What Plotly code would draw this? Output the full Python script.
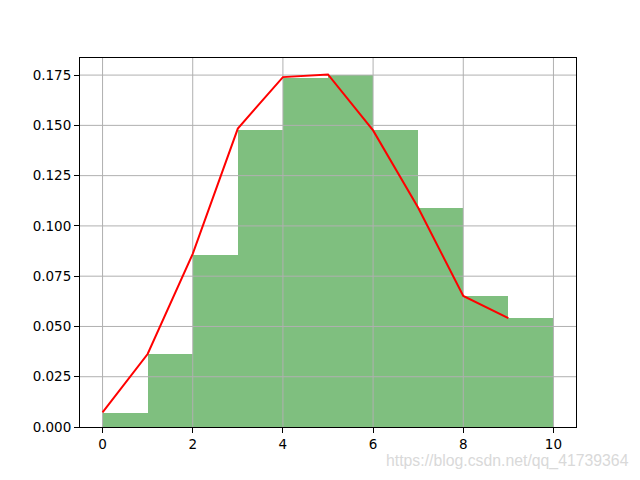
import plotly.graph_objects as go

bin_left = [0, 1, 2, 3, 4, 5, 6, 7, 8, 9]
bar_heights = [0.0070, 0.0365, 0.0856, 0.1478, 0.1737, 0.1750, 0.1475, 0.1090, 0.0652, 0.0544]
line_x = [0, 1, 2, 3, 4, 5, 6, 7, 8, 9]
line_y = [0.0073, 0.0363, 0.0861, 0.1484, 0.1740, 0.1753, 0.1475, 0.1090, 0.0652, 0.0541]
x_ticks = [0, 2, 4, 6, 8, 10]
y_ticks = [0.000, 0.025, 0.050, 0.075, 0.100, 0.125, 0.150, 0.175]

x_range = [-0.5, 10.5]
y_range = [0, 0.1835]

fig = go.Figure()
fig.add_trace(go.Bar(x=bin_left, y=bar_heights, width=1, offset=0,
                     marker=dict(color="rgba(0,128,0,0.5)", line=dict(width=0)),
                     hoverinfo="skip"))

# grid lines drawn above bars, below the line (as matplotlib does)
gx, gy = [], []
for t in x_ticks:
    gx += [t, t, None]
    gy += [y_range[0], y_range[1], None]
for t in y_ticks[1:]:
    gx += [x_range[0], x_range[1], None]
    gy += [t, t, None]
fig.add_trace(go.Scatter(x=gx, y=gy, mode="lines", line=dict(color="#b0b0b0", width=1),
                         hoverinfo="skip", cliponaxis=True))

fig.add_trace(go.Scatter(x=line_x, y=line_y, mode="lines",
                         line=dict(color="red", width=2)))

axis_common = dict(showgrid=False, zeroline=False, showline=True, linecolor="black",
                   linewidth=1, mirror=True, ticks="outside", ticklen=5, tickwidth=1,
                   tickcolor="black", tickfont=dict(family="DejaVu Sans", size=13.5, color="black"))
fig.update_xaxes(range=x_range, tickvals=x_ticks, ticktext=[str(t) for t in x_ticks], **axis_common)
fig.update_yaxes(range=y_range, tickvals=y_ticks, ticktext=[f"{t:.3f}" for t in y_ticks], **axis_common)

fig.add_annotation(text="https://blog.csdn.net/qq_41739364", xref="paper", yref="paper",
                   x=1.111, y=-0.093, xanchor="right", yanchor="middle", showarrow=False,
                   font=dict(family="Liberation Sans", size=15.8, color="#d9d9d9"))

# page body has an 8px margin, so the figure is 8px smaller and margins shifted
fig.update_layout(width=632, height=472, margin=dict(l=72, r=64, t=50, b=53),
                  paper_bgcolor="white", plot_bgcolor="white", showlegend=False,
                  bargap=0)
fig.write_html("out.html")
